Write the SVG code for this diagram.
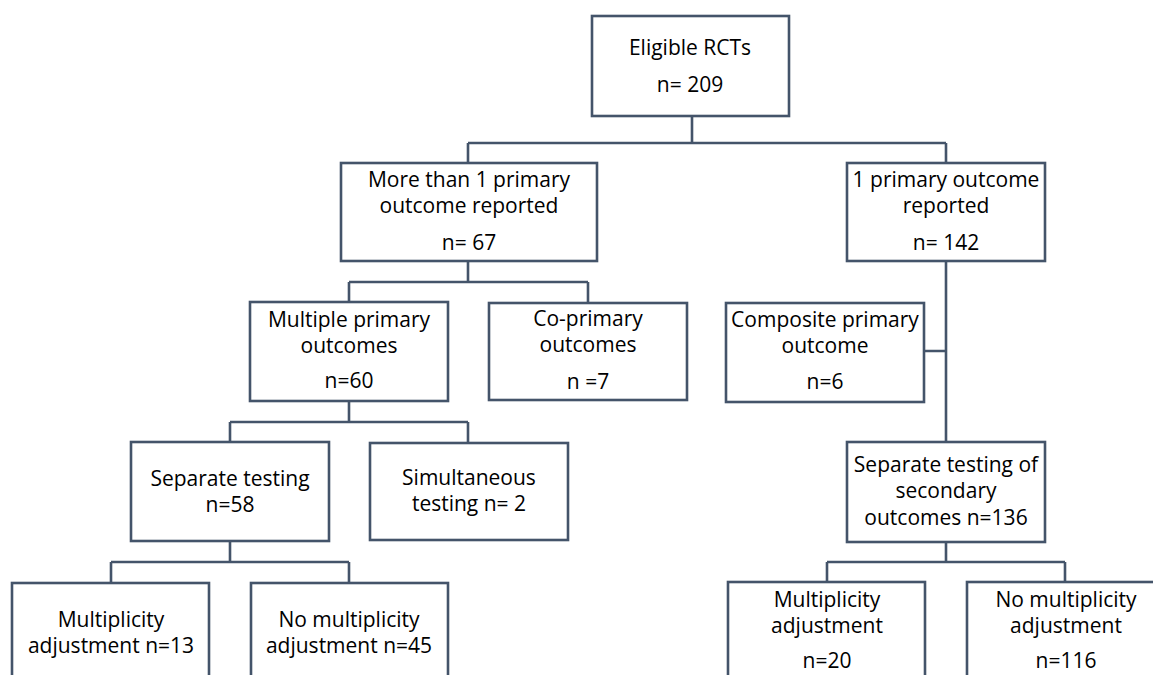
<svg xmlns="http://www.w3.org/2000/svg" width="1153" height="675" viewBox="0 0 1153 675">
<style>
.box{fill:#fff;stroke:#44546A;stroke-width:2.6}
.ln{fill:none;stroke:#44546A;stroke-width:2.6}
text{font-family:"Open Sans","Noto Sans",sans-serif;font-size:21px;fill:#000;text-anchor:middle}
</style>
<rect width="1153" height="675" fill="#fff"/>
<g id="connectors">
<path class="ln" d="M692 116V143M468 143H946M468 143V163M946 143V163"/>
<path class="ln" d="M468 261V282M349 282H588M349 282V302M588 282V303"/>
<path class="ln" d="M349 401V422M230 422H468M230 422V442M468 422V443"/>
<path class="ln" d="M230 541V562M111 562H349M111 562V583M349 562V583"/>
<path class="ln" d="M946 261V442M924 351H946"/>
<path class="ln" d="M946 542V562M827 562H1065M827 562V582M1065 562V582"/>
</g>
<g id="root"><rect class="box" x="592" y="16" width="197" height="100"/>
<text x="690" y="55">Eligible RCTs</text><text x="690" y="92">n= 209</text></g>
<g id="more1"><rect class="box" x="341" y="163" width="256" height="98"/>
<text x="469" y="187">More than 1 primary</text><text x="469" y="213">outcome reported</text><text x="469" y="250">n= 67</text></g>
<g id="one1"><rect class="box" x="847" y="163" width="198" height="98"/>
<text x="946" y="187">1 primary outcome</text><text x="946" y="213">reported</text><text x="946" y="250">n= 142</text></g>
<g id="multiple"><rect class="box" x="250" y="302" width="198" height="99"/>
<text x="349" y="327">Multiple primary</text><text x="349" y="353">outcomes</text><text x="349" y="388">n=60</text></g>
<g id="coprimary"><rect class="box" x="489" y="303" width="198" height="97"/>
<text x="588" y="326">Co-primary</text><text x="588" y="352">outcomes</text><text x="588" y="389">n =7</text></g>
<g id="composite"><rect class="box" x="726" y="303" width="198" height="99"/>
<text x="825" y="327">Composite primary</text><text x="825" y="353">outcome</text><text x="825" y="389">n=6</text></g>
<g id="separate"><rect class="box" x="131" y="442" width="198" height="99"/>
<text x="230" y="486">Separate testing</text><text x="230" y="512">n=58</text></g>
<g id="simultaneous"><rect class="box" x="370" y="443" width="198" height="97"/>
<text x="469" y="485">Simultaneous</text><text x="469" y="511">testing n= 2</text></g>
<g id="secondary"><rect class="box" x="847" y="442" width="198" height="100"/>
<text x="946" y="472">Separate testing of</text><text x="946" y="498">secondary</text><text x="946" y="525">outcomes n=136</text></g>
<g id="mult13"><rect class="box" x="12" y="583" width="197" height="110"/>
<text x="111" y="627">Multiplicity</text><text x="111" y="653">adjustment n=13</text></g>
<g id="nomult45"><rect class="box" x="251" y="583" width="197" height="110"/>
<text x="349" y="627">No multiplicity</text><text x="349" y="653">adjustment n=45</text></g>
<g id="mult20"><rect class="box" x="728" y="582" width="197" height="110"/>
<text x="827" y="607">Multiplicity</text><text x="827" y="633">adjustment</text><text x="827" y="668">n=20</text></g>
<g id="nomult116"><rect class="box" x="967" y="582" width="197" height="110"/>
<text x="1066" y="607">No multiplicity</text><text x="1066" y="633">adjustment</text><text x="1066" y="668">n=116</text></g>
</svg>
